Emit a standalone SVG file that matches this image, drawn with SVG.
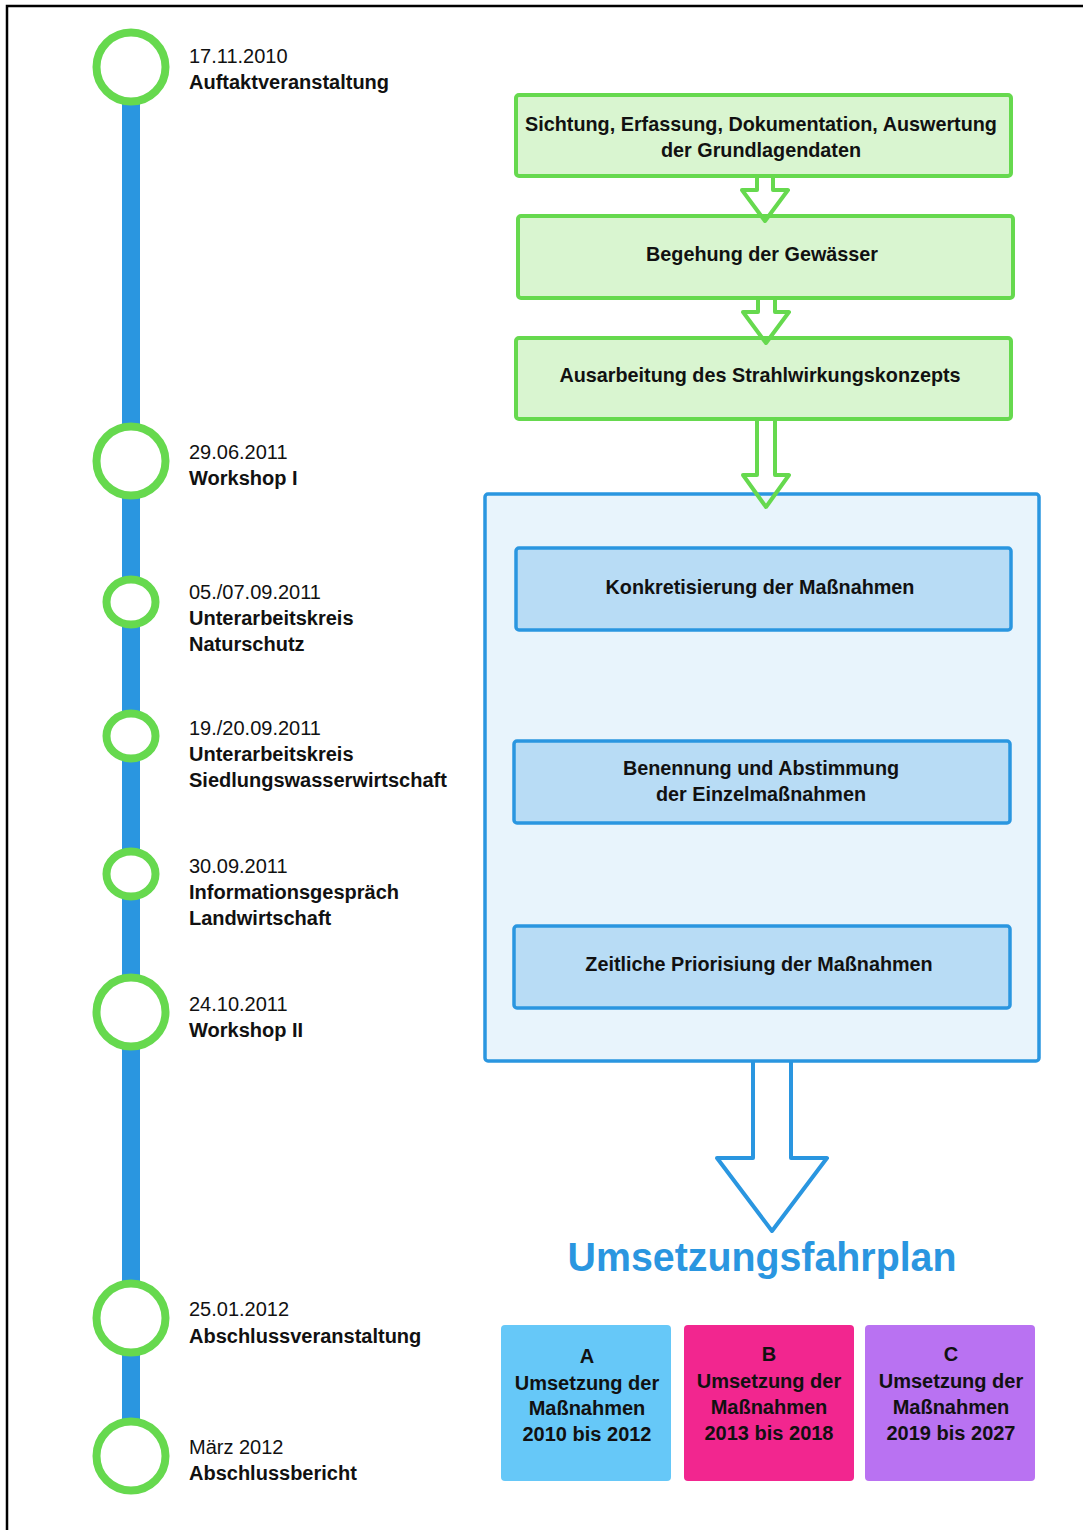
<svg xmlns="http://www.w3.org/2000/svg" width="1083" height="1530" viewBox="0 0 1083 1530">
<style>
text{font-family:"Liberation Sans",Arial,sans-serif;fill:#111;}
.d{font-size:20px;}
.t{font-size:20px;font-weight:bold;}
.b{font-size:19.8px;font-weight:bold;text-anchor:middle;}
.c{font-size:20px;font-weight:bold;text-anchor:middle;}
.ring{fill:#fff;stroke:#66d94e;stroke-width:8;}
.gbox{fill:#d9f5d0;stroke:#66d94e;stroke-width:4;}
.bbox{fill:#b8dcf5;stroke:#2a96e0;stroke-width:3.5;}
.garrow{fill:none;stroke:#66d94e;stroke-width:4;stroke-linejoin:round;}
.barrow{fill:none;stroke:#2a96e0;stroke-width:4;stroke-linejoin:round;}
</style>
<rect width="1083" height="1530" fill="#fff"/>
<path d="M7,1530 V6 H1083" fill="none" stroke="#000" stroke-width="2.5"/>

<g id="timeline">
<rect x="122" y="67" width="18" height="1389" fill="#2a96e0"/>
</g>

<g id="t1"><circle class="ring" cx="131" cy="67" r="34.5"/><text class="d" x="189" y="63">17.11.2010</text><text class="t" x="189" y="89">Auftaktveranstaltung</text></g>
<g id="t2"><circle class="ring" cx="131" cy="461" r="34.5"/><text class="d" x="189" y="459">29.06.2011</text><text class="t" x="189" y="485">Workshop I</text></g>
<g id="t3"><ellipse class="ring" cx="131" cy="602" rx="24.5" ry="22.5"/><text class="d" x="189" y="599">05./07.09.2011</text><text class="t" x="189" y="625">Unterarbeitskreis</text><text class="t" x="189" y="651">Naturschutz</text></g>
<g id="t4"><ellipse class="ring" cx="131" cy="736" rx="24.5" ry="22.5"/><text class="d" x="189" y="735">19./20.09.2011</text><text class="t" x="189" y="761">Unterarbeitskreis</text><text class="t" x="189" y="787">Siedlungswasserwirtschaft</text></g>
<g id="t5"><ellipse class="ring" cx="131" cy="874" rx="24.5" ry="22.5"/><text class="d" x="189" y="873">30.09.2011</text><text class="t" x="189" y="899">Informationsgespräch</text><text class="t" x="189" y="925">Landwirtschaft</text></g>
<g id="t6"><circle class="ring" cx="131" cy="1012" r="34.5"/><text class="d" x="189" y="1011">24.10.2011</text><text class="t" x="189" y="1037">Workshop II</text></g>
<g id="t7"><circle class="ring" cx="131" cy="1318" r="34.5"/><text class="d" x="189" y="1316">25.01.2012</text><text class="t" x="189" y="1343">Abschlussveranstaltung</text></g>
<g id="t8"><circle class="ring" cx="131" cy="1456" r="34.5"/><text class="d" x="189" y="1454">März 2012</text><text class="t" x="189" y="1480">Abschlussbericht</text></g>

<g id="g1"><rect class="gbox" x="516" y="95" width="495" height="81" rx="3"/><text class="b" x="761" y="131">Sichtung, Erfassung, Dokumentation, Auswertung</text><text class="b" x="761" y="157">der Grundlagendaten</text></g>
<g id="g2"><rect class="gbox" x="518" y="216" width="495" height="82" rx="3"/><text class="b" x="762" y="261">Begehung der Gewässer</text></g>
<g id="g3"><rect class="gbox" x="516" y="338" width="495" height="81" rx="3"/><text class="b" x="760" y="382">Ausarbeitung des Strahlwirkungskonzepts</text></g>

<g id="container"><rect x="485" y="494" width="554" height="567" rx="3" fill="#e8f4fc" stroke="#2a96e0" stroke-width="3.5"/></g>
<g id="b1"><rect class="bbox" x="516" y="548" width="495" height="82" rx="3"/><text class="b" x="760" y="594">Konkretisierung der Maßnahmen</text></g>
<g id="b2"><rect class="bbox" x="514" y="741" width="496" height="82" rx="3"/><text class="b" x="761" y="775">Benennung und Abstimmung</text><text class="b" x="761" y="801">der Einzelmaßnahmen</text></g>
<g id="b3"><rect class="bbox" x="514" y="926" width="496" height="82" rx="3"/><text class="b" x="759" y="971">Zeitliche Priorisiung der Maßnahmen</text></g>

<g id="connectors">
<path class="garrow" d="M757,176 V190 H742 L765,221 L788,190 H773 V176 Z"/>
<path class="garrow" d="M758,298 V312 H743 L766,343 L789,312 H775 V298 Z"/>
<path class="garrow" d="M757,419 V475 H743 L766,507 L789,475 H775 V419 Z"/>
<path class="barrow" d="M753,1061 V1158 H717 L772,1231 L827,1158 H791 V1061"/>
</g>

<g id="title"><text x="762" y="1271" style="font-size:41px;font-weight:bold;fill:#2a96e0;text-anchor:middle" textLength="389" lengthAdjust="spacingAndGlyphs">Umsetzungsfahrplan</text></g>

<g id="pA"><rect x="501" y="1325" width="170" height="156" rx="4" fill="#66c8f8"/><text class="c" x="587" y="1363">A</text><text class="c" x="587" y="1390">Umsetzung der</text><text class="c" x="587" y="1415">Maßnahmen</text><text class="c" x="587" y="1441">2010 bis 2012</text></g>
<g id="pB"><rect x="684" y="1325" width="170" height="156" rx="4" fill="#f2268f"/><text class="c" x="769" y="1361">B</text><text class="c" x="769" y="1388">Umsetzung der</text><text class="c" x="769" y="1414">Maßnahmen</text><text class="c" x="769" y="1440">2013 bis 2018</text></g>
<g id="pC"><rect x="865" y="1325" width="170" height="156" rx="4" fill="#b972f2"/><text class="c" x="951" y="1361">C</text><text class="c" x="951" y="1388">Umsetzung der</text><text class="c" x="951" y="1414">Maßnahmen</text><text class="c" x="951" y="1440">2019 bis 2027</text></g>
</svg>
